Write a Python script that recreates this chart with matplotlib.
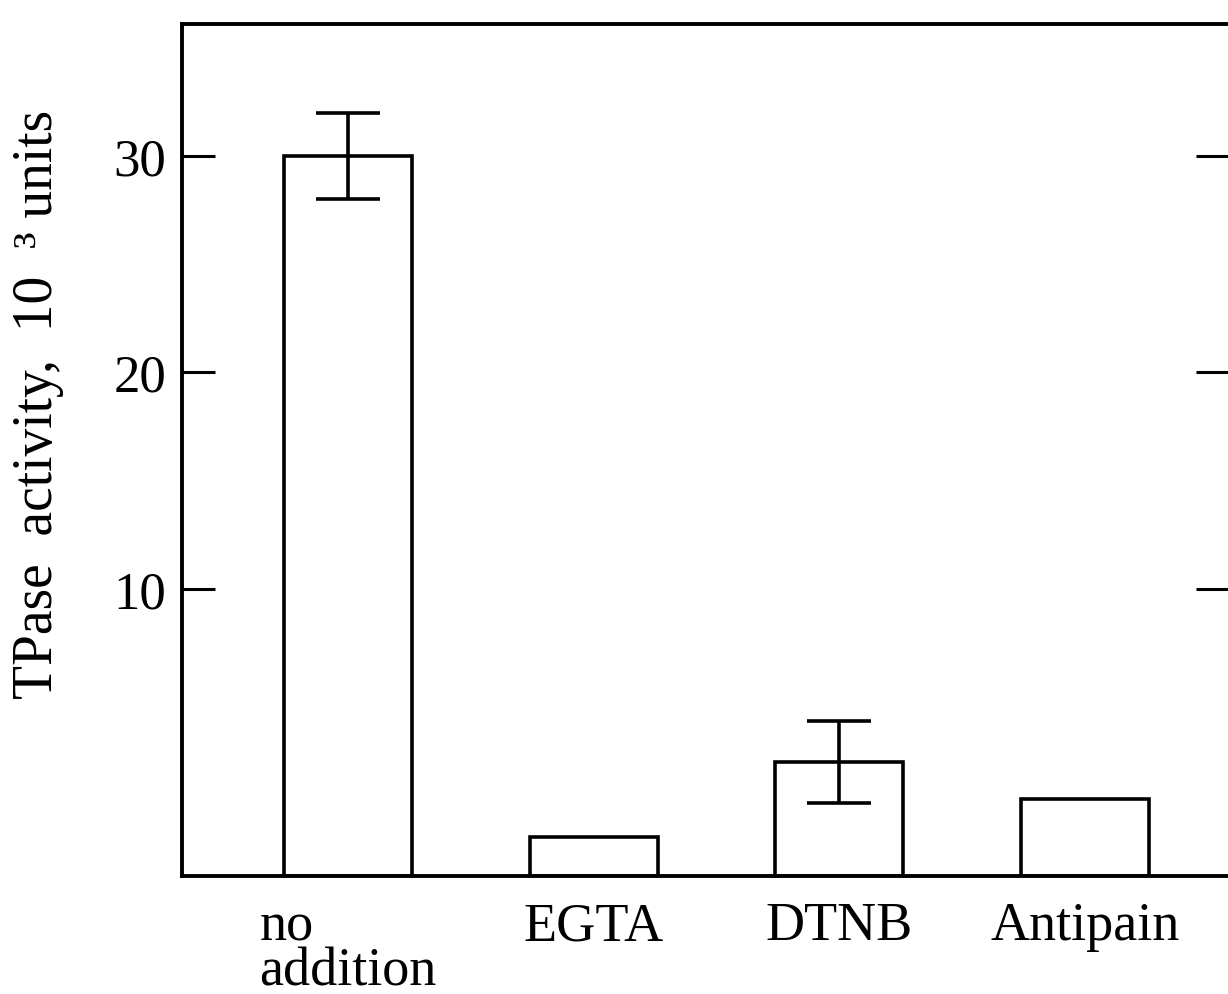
import numpy as np
import matplotlib.pyplot as plt

# data
treatments = ["no\naddition", "EGTA", "DTNB", "Antipain"]
activity = np.array([30.0, -1.45, 2.0, 0.3])
err_val = np.array([2.0, np.nan, 1.9, np.nan])
ytick_vals = [10, 20, 30]

floor = -3.26   # where the bars stand in the original figure
top = 36.1

plt.rcParams['font.family'] = ['Liberation Serif', 'DejaVu Serif']

fig = plt.figure(figsize=(12.28, 9.95), dpi=100)
ax = fig.add_axes([0.148, 0.1186, 0.853, 0.8564])

x = np.arange(len(treatments))
ax.bar(x, activity - floor, bottom=floor, width=0.52,
       color='white', edgecolor='black', linewidth=2.6)
ax.errorbar(x, activity, yerr=err_val, fmt='none', ecolor='black',
            elinewidth=2.6, capsize=23, capthick=2.6)

ax.set_xlim(-0.677, 3.587)
ax.set_ylim(floor, top)
ax.set_yticks(ytick_vals)
ax.set_xticks(x)
ax.set_xticklabels(treatments, fontsize=39, linespacing=0.85,
                   multialignment='left')
ax.tick_params(axis='x', length=0, pad=18)
ax.tick_params(axis='y', direction='in', length=24, width=2.2, labelsize=38,
               pad=11, right=True)
for s in ax.spines.values():
    s.set_linewidth(2.8)

ax.set_ylabel("TPase  activity,  10  \u00b3 units", fontsize=40)
ax.yaxis.set_label_coords(-0.112, 0.554)

fig.savefig("out.png", dpi=100)
